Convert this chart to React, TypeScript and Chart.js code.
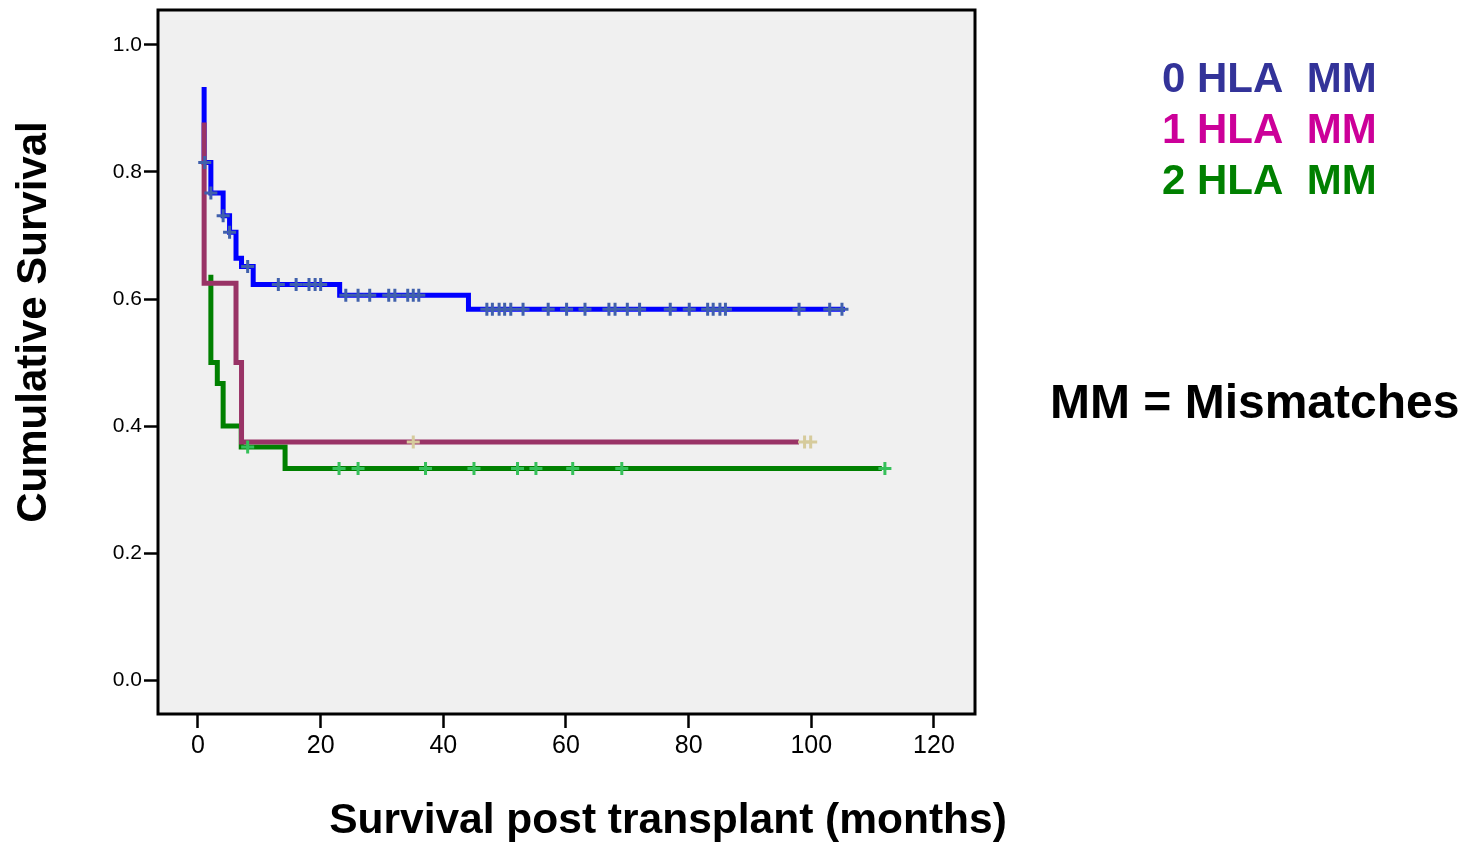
import React, { useEffect, useRef } from "react";
import { Chart, registerables } from "chart.js";

Chart.register(...registerables);

// ---- Data ----
// Kaplan-Meier step curves: event times (months) and survival after each step
const blueTimes = [1.0, 1.0, 2.1, 4.1, 5.15, 6.2, 7.1, 9.0, 23.1, 44.1, 105.5];
const blueSurv = [0.934, 0.815, 0.767, 0.731, 0.705, 0.664, 0.651, 0.623, 0.606, 0.584, 0.584];

const maroonTimes = [1.0, 1.0, 6.2, 7.1, 98.0];
const maroonSurv = [0.878, 0.625, 0.5, 0.375, 0.375];

const greenTimes = [2.1, 2.1, 3.15, 4.1, 7.05, 14.2, 111.5];
const greenSurv = [0.638, 0.5, 0.467, 0.4, 0.367, 0.333, 0.333];

// Censored observations (months)
const blueCensored = [1.1, 2.1, 4.1, 5.15, 8.1, 13.1, 16.0, 18.1, 19.1, 20.0, 24.1, 26.1, 28.0, 31.1, 32.1, 34.2, 35.1, 36.0, 47.1, 48.0, 49.1, 50.0, 51.0, 53.0, 57.1, 60.1, 63.1, 67.0, 68.0, 70.0, 72.0, 77.0, 80.1, 83.1, 84.0, 85.1, 86.0, 98.0, 103.0, 105.0];
const maroonCensored = [35.1, 98.9, 99.9];
const greenCensored = [8.1, 23.0, 26.1, 37.1, 45.0, 52.1, 55.1, 61.1, 69.1, 112.0];

// Axis ticks
const xTickValues = [0, 20, 40, 60, 80, 100, 120];
const yTickValues = [0, 0.2, 0.4, 0.6, 0.8, 1.0];

// Text
const legendLabels = ["0 HLA  MM", "1 HLA  MM", "2 HLA  MM"];
const legendColors = ["#333399", "#cc0099", "#008000"];
const noteText = "MM = Mismatches";
const yTitle = "Cumulative Survival";
const xTitle = "Survival post transplant (months)";

const FONT = "'Liberation Sans', Arial, Helvetica, sans-serif";
const NARROW = "'Liberation Sans Narrow', 'Arial Narrow', 'Liberation Sans', Arial, sans-serif";

function stepPoints(times: number[], surv: number[]) {
  return times.map((t, i) => ({ x: t, y: surv[i] }));
}

function survAt(times: number[], surv: number[], t: number) {
  let s = surv[0];
  for (let i = 0; i < times.length; i++) {
    if (times[i] <= t + 1e-9) s = surv[i];
  }
  return s;
}

function censorPoints(cens: number[], times: number[], surv: number[]) {
  return cens.map((t) => ({ x: t, y: survAt(times, surv, t) }));
}

const framePlugin = {
  id: "spssFrame",
  beforeDraw(chart: any) {
    const { ctx, chartArea: a } = chart;
    ctx.save();
    ctx.fillStyle = "#f0f0f0";
    ctx.fillRect(a.left, a.top, a.right - a.left, a.bottom - a.top);
    ctx.restore();
  },
  afterDraw(chart: any) {
    const { ctx, chartArea: a } = chart;
    ctx.save();
    ctx.strokeStyle = "#000";
    ctx.lineWidth = 3;
    ctx.strokeRect(a.left, a.top, a.right - a.left, a.bottom - a.top);

    // Legend
    ctx.font = `bold 42px ${FONT}`;
    ctx.textAlign = "left";
    ctx.textBaseline = "alphabetic";
    legendLabels.forEach((lab, i) => {
      ctx.fillStyle = legendColors[i];
      ctx.fillText(lab, 1162, 92 + i * 51);
    });

    // Note
    ctx.fillStyle = "#000";
    ctx.font = `bold 48px ${FONT}`;
    ctx.fillText(noteText, 1050, 418);

    // X title
    ctx.font = `bold 42.5px ${FONT}`;
    ctx.textAlign = "center";
    ctx.fillText(xTitle, 668, 833);

    // Y title
    ctx.font = `bold 42px ${FONT}`;
    ctx.translate(46, 322);
    ctx.rotate(-Math.PI / 2);
    ctx.textAlign = "center";
    ctx.fillText(yTitle, 0, 0);
    ctx.restore();
  },
};

export default function App() {
  const canvasRef = useRef<HTMLCanvasElement | null>(null);

  useEffect(() => {
    const canvas = canvasRef.current;
    if (!canvas) return;

    const lineBase = {
      showLine: true,
      stepped: true,
      pointRadius: 0,
      pointHoverRadius: 0,
      borderWidth: 5,
      fill: false,
      borderCapStyle: "butt",
      borderJoinStyle: "miter",
    };
    const censorBase = {
      showLine: false,
      pointStyle: "cross",
      pointRadius: 6.5,
      pointHoverRadius: 6.5,
      borderWidth: 3,
    };

    const chart = new Chart(canvas, {
      type: "scatter",
      data: {
        datasets: [
          {
            ...lineBase,
            label: "0 HLA MM",
            data: stepPoints(blueTimes, blueSurv),
            borderColor: "#0000ff",
            backgroundColor: "#0000ff",
            order: 5,
          },
          {
            ...lineBase,
            label: "2 HLA MM",
            data: stepPoints(greenTimes, greenSurv),
            borderColor: "#008000",
            backgroundColor: "#008000",
            order: 4,
          },
          {
            ...lineBase,
            label: "1 HLA MM",
            data: stepPoints(maroonTimes, maroonSurv),
            borderColor: "#993366",
            backgroundColor: "#993366",
            order: 3,
          },
          {
            ...censorBase,
            label: "0 censored",
            data: censorPoints(blueCensored, blueTimes, blueSurv),
            borderColor: "#4060ac",
            backgroundColor: "#4060ac",
            order: 2,
          },
          {
            ...censorBase,
            label: "1 censored",
            data: censorPoints(maroonCensored, maroonTimes, maroonSurv),
            borderColor: "#d6cb9c",
            backgroundColor: "#d6cb9c",
            order: 1,
          },
          {
            ...censorBase,
            label: "2 censored",
            data: censorPoints(greenCensored, greenTimes, greenSurv),
            borderColor: "#36c05a",
            backgroundColor: "#36c05a",
            order: 0,
          },
        ] as any,
      },
      options: {
        responsive: false,
        animation: false,
        devicePixelRatio: 1,
        layout: { padding: { top: 10, right: 507, left: 0, bottom: 0 } },
        plugins: {
          legend: { display: false },
          tooltip: { enabled: false },
        },
        events: [],
        scales: {
          x: {
            type: "linear",
            min: -6.52,
            max: 126.69,
            afterBuildTicks: (s: any) => {
              s.ticks = xTickValues.map((v) => ({ value: v }));
            },
            afterFit: (s: any) => {
              s.height = 131;
              s.paddingLeft = 0;
              s.paddingRight = 0;
            },
            border: { display: false },
            grid: {
              display: true,
              drawOnChartArea: false,
              drawTicks: true,
              tickLength: 14,
              tickWidth: 2.5,
              tickColor: "#000",
            },
            ticks: {
              autoSkip: false,
              maxRotation: 0,
              minRotation: 0,
              padding: 3,
              color: "#000",
              font: { family: NARROW, size: 25 },
              callback: (v: any) => String(v),
            },
          },
          y: {
            type: "linear",
            min: -0.0535,
            max: 1.0551,
            afterBuildTicks: (s: any) => {
              s.ticks = yTickValues.map((v) => ({ value: v }));
            },
            afterFit: (s: any) => {
              s.width = 158;
              s.paddingTop = 0;
              s.paddingBottom = 0;
            },
            border: { display: false },
            grid: {
              display: true,
              drawOnChartArea: false,
              drawTicks: true,
              tickLength: 14,
              tickWidth: 2.5,
              tickColor: "#000",
            },
            ticks: {
              autoSkip: false,
              padding: 2,
              color: "#000",
              font: { family: FONT, size: 21 },
              callback: (v: any) => Number(v).toFixed(1),
            },
          },
        },
      } as any,
      plugins: [framePlugin],
    });

    return () => {
      chart.destroy();
    };
  }, []);

  return (
    <div
      style={{
        position: "fixed",
        left: 0,
        top: 0,
        width: 1482,
        height: 845,
        background: "#ffffff",
      }}
    >
      <canvas
        ref={canvasRef}
        width={1482}
        height={845}
        style={{ display: "block", width: 1482, height: 845 }}
      />
    </div>
  );
}
